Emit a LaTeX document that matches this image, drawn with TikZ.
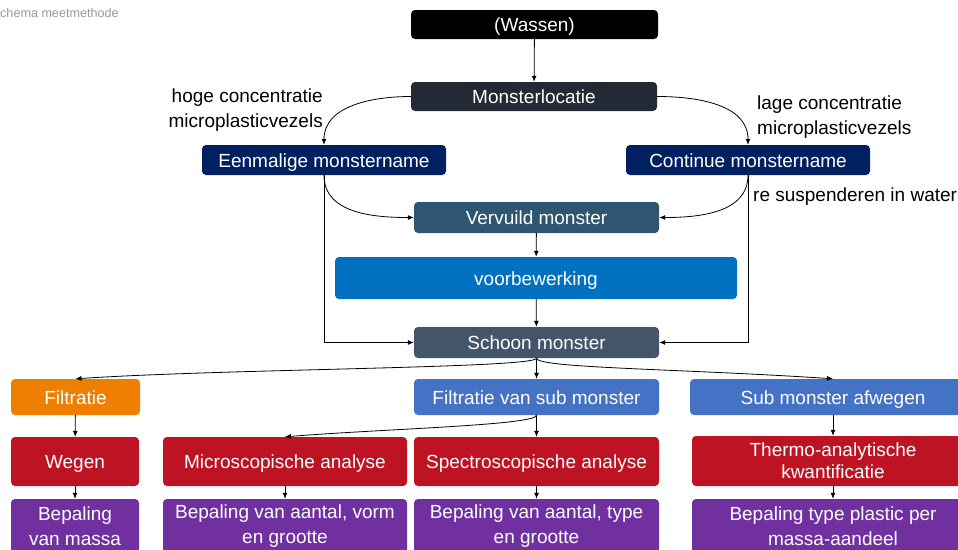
\documentclass[tikz,border=0pt]{standalone}
\usepackage{fontspec}
\setmainfont{Liberation Sans}
\usetikzlibrary{arrows.meta}
\definecolor{cBlack}{HTML}{000000}
\definecolor{cDark}{HTML}{232A35}
\definecolor{cNavy}{HTML}{002060}
\definecolor{cSlate}{HTML}{2F5670}
\definecolor{cBlue}{HTML}{0070C0}
\definecolor{cGrey}{HTML}{44546A}
\definecolor{cOrange}{HTML}{EE7F00}
\definecolor{cLight}{HTML}{4472C4}
\definecolor{cRed}{HTML}{BE1323}
\definecolor{cPurple}{HTML}{7030A0}
\tikzset{
  box/.style={rounded corners=4pt, inner sep=0pt, text=white, align=center,
    font=\fontsize{19}{24.5}\selectfont},
  oneline/.style={text height=14pt, text depth=0pt},
  lbl/.style={inner sep=0pt, text=black, font=\fontsize{19}{24.5}\selectfont},
  arr/.style={-{Latex[length=6pt,width=5pt]}, line width=0.8pt, black},
}
\begin{document}
\begin{tikzpicture}[x=1pt,y=1pt]
\useasboundingbox (0,0) rectangle (958,-549);
\clip (0,0) rectangle (958,-549);
\fill[white] (0,0) rectangle (958,-549);

% title
\node[anchor=west, inner sep=0pt, text=black!40, font=\fontsize{12.6}{14}\selectfont] (title) at (0,-12.5) {chema meetmethode};

% sampling
\node[box, oneline, fill=cBlack, minimum width=247, minimum height=29] (wassen) at (534.5,-24.5) {(Wassen)};
\node[box, oneline, fill=cDark, minimum width=246, minimum height=29] (loc) at (534,-96.5) {Monsterlocatie};
\node[box, oneline, fill=cNavy, minimum width=244, minimum height=30] (een) at (324,-160) {Eenmalige monstername};
\node[box, oneline, fill=cNavy, minimum width=244, minimum height=30] (con) at (748,-160) {Continue monstername};
\node[box, oneline, fill=cSlate, minimum width=245, minimum height=31] (vuil) at (536.5,-217.5) {Vervuild monster};
\node[box, oneline, fill=cBlue, minimum width=402, minimum height=42] (voor) at (536,-278) {voorbewerking};
\node[box, oneline, fill=cGrey, minimum width=245, minimum height=31] (schoon) at (536.5,-342.5) {Schoon monster};

% labels
\node[lbl, anchor=east, align=right] (hoge) at (323,-110) {hoge concentratie\\microplasticvezels};
\node[lbl, anchor=west, align=left] (lage) at (757,-117) {lage concentratie\\microplasticvezels};
\node[lbl, anchor=west] (resus) at (753,-197) {re suspenderen in water};

% analysis
\node[box, oneline, fill=cOrange, minimum width=129, minimum height=36] (filt) at (75.5,-397) {Filtratie};
\node[box, oneline, fill=cLight, minimum width=245, minimum height=36] (fsub) at (536.5,-397) {Filtratie van sub monster};
\node[box, oneline, fill=cLight, minimum width=286, minimum height=36] (afw) at (833,-397) {Sub monster afwegen};

\node[box, oneline, fill=cRed, minimum width=128, minimum height=49] (wegen) at (75,-461.5) {Wegen};
\node[box, oneline, fill=cRed, minimum width=244, minimum height=49] (micro) at (285,-461.5) {Microscopische analyse};
\node[box, oneline, fill=cRed, minimum width=245, minimum height=49] (spec) at (536.5,-461.5) {Spectroscopische analyse};
\node[box, fill=cRed, minimum width=282, minimum height=50, font=\fontsize{19}{22}\selectfont] (thermo) at (833,-461) {Thermo-analytische\\kwantificatie};

\node[box, fill=cPurple, minimum width=128, minimum height=54] (bm) at (75,-526) {Bepaling\\van massa};
\node[box, fill=cPurple, minimum width=244, minimum height=54] (bav) at (285,-526) {Bepaling van aantal, vorm\\en grootte};
\node[box, fill=cPurple, minimum width=245, minimum height=54] (bat) at (536.5,-526) {Bepaling van aantal, type\\en grootte};
\node[box, fill=cPurple, minimum width=282, minimum height=54] (btp) at (833,-526) {Bepaling type plastic per\\massa-aandeel};

% connectors
\draw[arr] (wassen) -- (loc);
\draw[arr] (loc.west) to[out=180,in=90] (een.north);
\draw[arr] (loc.east) to[out=0,in=90] (con.north);
\draw[arr] (een.south) to[out=-90,in=180] (vuil.west);
\draw[arr] (con.south) to[out=-90,in=0] (vuil.east);
\draw[arr] (een.south) |- (schoon.west);
\draw[arr] (con.south) |- (schoon.east);
\draw[arr] (vuil) -- (voor);
\draw[arr] (voor) -- (schoon);

\draw[arr] (schoon.south) .. controls +(0,-10) and +(150,10) .. (filt.north);
\draw[arr] (schoon.south) .. controls +(0,-10) and +(-150,10) .. (afw.north);
\draw[arr] (schoon) -- (fsub);
\draw[arr] (fsub.south) .. controls +(0,-10) and +(100,8) .. (micro.north);
\draw[arr] (fsub) -- (spec);
\draw[arr] (afw) -- (thermo);
\draw[arr] (filt) -- (wegen);
\draw[arr] (wegen) -- (bm);
\draw[arr] (micro) -- (bav);
\draw[arr] (spec) -- (bat);
\draw[arr] (thermo) -- (btp);
\end{tikzpicture}
\end{document}
